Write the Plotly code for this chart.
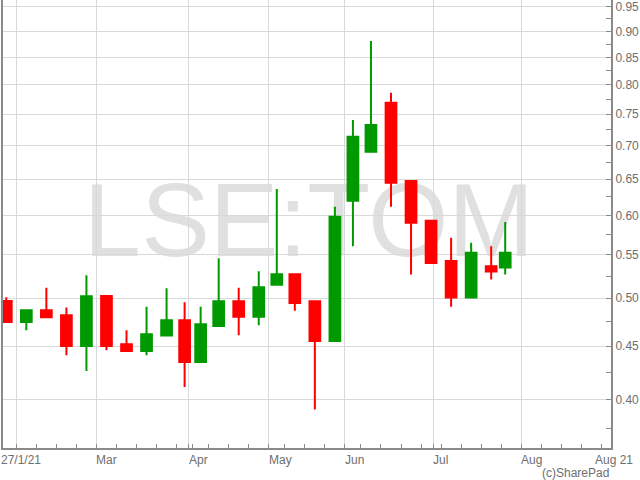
import numpy as np
import plotly.graph_objects as go

# ---------------- data ----------------
symbol = "LSE:TOM"
chart_start = "2021-01-27"
last_trade_date = "2021-07-27"
holidays = ["2021-04-02", "2021-04-05", "2021-05-03", "2021-05-31", "2021-08-30"]

week_starts = ["2021-01-25", "2021-02-01", "2021-02-08", "2021-02-15", "2021-02-22",
               "2021-03-01", "2021-03-08", "2021-03-15", "2021-03-22", "2021-03-29",
               "2021-04-05", "2021-04-12", "2021-04-19", "2021-04-26", "2021-05-03",
               "2021-05-10", "2021-05-17", "2021-05-24", "2021-05-31", "2021-06-07",
               "2021-06-14", "2021-06-21", "2021-06-28", "2021-07-05", "2021-07-12",
               "2021-07-19", "2021-07-26"]
opens = [0.497, 0.4745, 0.487, 0.4817, 0.450, 0.5025, 0.4518, 0.4452, 0.4606, 0.4764,
         0.4346, 0.4704, 0.4968, 0.480, 0.515, 0.5272, 0.4968, 0.4551, 0.6197, 0.6904,
         0.769, 0.6472, 0.593, 0.5429, 0.5008, 0.5366, 0.5351]
highs = [0.501, 0.487, 0.5116, 0.490, 0.526, 0.5025, 0.466, 0.4906, 0.5112, 0.4957,
         0.4906, 0.546, 0.5116, 0.5307, 0.6359, 0.5272, 0.4968, 0.6116, 0.7403, 0.881,
         0.7862, 0.6472, 0.593, 0.5712, 0.5649, 0.5608, 0.5913]
lows = [0.4745, 0.466, 0.4796, 0.441, 0.426, 0.446, 0.4452, 0.441, 0.4606, 0.4113,
        0.4346, 0.4704, 0.4609, 0.4712, 0.515, 0.4863, 0.3913, 0.4551, 0.5608, 0.6904,
        0.6116, 0.5269, 0.5405, 0.4906, 0.5008, 0.5211, 0.5269]
closes = [0.4745, 0.487, 0.4796, 0.450, 0.5023, 0.450, 0.4452, 0.4619, 0.4764, 0.4346,
          0.4722, 0.4968, 0.4799, 0.5123, 0.5272, 0.4949, 0.4551, 0.5982, 0.7136, 0.7322,
          0.6448, 0.5904, 0.5405, 0.5008, 0.5526, 0.5304, 0.5526]

month_starts = ["2021-02-01", "2021-03-01", "2021-04-01", "2021-05-01",
                "2021-06-01", "2021-07-01", "2021-08-01"]
month_labels = ["27/1/21", "Mar", "Apr", "May", "Jun", "Jul", "Aug"]
end_label = "Aug 21"
y_ticks = [0.40, 0.45, 0.50, 0.55, 0.60, 0.65, 0.70, 0.75, 0.80, 0.85, 0.90, 0.95]
y_minor = [0.375, 0.425, 0.475, 0.525, 0.575, 0.625, 0.675, 0.725, 0.775, 0.825, 0.875, 0.925]
credit = "(c)SharePad"

# ---------------- trading-day scale ----------------
def tday(d):
    return int(np.busday_count(chart_start, d, holidays=holidays))

last_next = np.datetime64(last_trade_date) + 1
centers = []
for w in week_starts:
    a = tday(w)
    end = min(np.datetime64(w) + 7, last_next)
    b = tday(end)
    centers.append((a + b) / 2)

month_pos = [tday(m) for m in month_starts]
mondays = np.arange(np.datetime64("2021-02-01"), np.datetime64("2021-09-01"), 7)
week_pos = [tday(str(m)) for m in mondays]

GREEN = "#009900"
RED = "#ff0000"
GRID = "#d9d9d9"
AXIS = "#8a8a8a"
TXT = "#6e6e6e"
FONT = "Liberation Sans, Arial, sans-serif"

fig = go.Figure()
fig.add_trace(go.Candlestick(
    x=centers, open=opens, high=highs, low=lows, close=closes,
    increasing=dict(line=dict(color=GREEN, width=2), fillcolor=GREEN),
    decreasing=dict(line=dict(color=RED, width=2), fillcolor=RED),
    whiskerwidth=0, showlegend=False, hoverinfo="skip",
))

annotations = []
annotations.append(dict(text=month_labels[0], xref="paper", yref="paper", x=0, y=0,
                        xanchor="left", yanchor="middle", yshift=-11.5, xshift=-4,
                        showarrow=False, font=dict(size=12, color=TXT, family=FONT)))
for pos, lab in zip(month_pos[1:], month_labels[1:]):
    annotations.append(dict(text=lab, xref="x", yref="paper", x=pos, y=0,
                            xanchor="left", yanchor="middle", yshift=-11.5, xshift=-2,
                            showarrow=False, font=dict(size=12, color=TXT, family=FONT)))
annotations.append(dict(text=end_label, xref="paper", yref="paper", x=1.005, y=0,
                        xanchor="center", yanchor="middle", yshift=-11.5,
                        showarrow=False, font=dict(size=12, color=TXT, family=FONT)))
annotations.append(dict(text=credit, xref="paper", yref="paper", x=1, y=0,
                        xanchor="right", yanchor="middle", yshift=-25,
                        showarrow=False, font=dict(size=12, color=TXT, family=FONT)))

fig.update_layout(
    width=640, height=480, autosize=False,
    margin=dict(l=3, r=29, t=0, b=32),
    paper_bgcolor="white", plot_bgcolor="rgba(0,0,0,0)",
    boxgap=0.237, boxgroupgap=0,
    showlegend=False,
    annotations=annotations,
    shapes=[dict(type="rect", xref="paper", yref="paper", x0=0.0066, x1=1, y0=0.062, y1=1,
                 line=dict(width=0), fillcolor="rgba(0,0,0,0)", layer="below",
                 label=dict(text=symbol, textposition="middle center",
                            font=dict(size=103, color="#e0e0e0", family=FONT)))],
    xaxis=dict(
        range=[-0.32, 151.4], rangeslider=dict(visible=False),
        showline=True, linecolor=AXIS, linewidth=2,
        ticks="inside", ticklen=4, tickcolor=AXIS, tickwidth=1,
        tickmode="array", tickvals=month_pos, showticklabels=False,
        showgrid=True, gridcolor=GRID, gridwidth=1, zeroline=False,
        minor=dict(ticks="inside", ticklen=4, tickcolor=AXIS, tickwidth=1,
                   tickmode="array", tickvals=week_pos, showgrid=False),
    ),
    yaxis=dict(
        type="log", side="right",
        range=[np.log10(0.3595), np.log10(0.9645)],
        showline=True, mirror=True, linecolor=AXIS, linewidth=2,
        ticks="inside", ticklen=5, tickcolor=AXIS, tickwidth=1,
        tickmode="array", tickvals=y_ticks, ticktext=[f"{v:.2f}" for v in y_ticks],
        tickfont=dict(size=12, color=TXT, family=FONT),
        showgrid=True, gridcolor=GRID, gridwidth=1, zeroline=False,
        minor=dict(ticks="inside", ticklen=5, tickcolor=AXIS, tickwidth=1,
                   tickmode="array", tickvals=y_minor, showgrid=False),
    ),
)

fig.write_html("out.html", config={"displayModeBar": False},
               post_script="document.body.style.margin='0';document.body.style.padding='0';")
